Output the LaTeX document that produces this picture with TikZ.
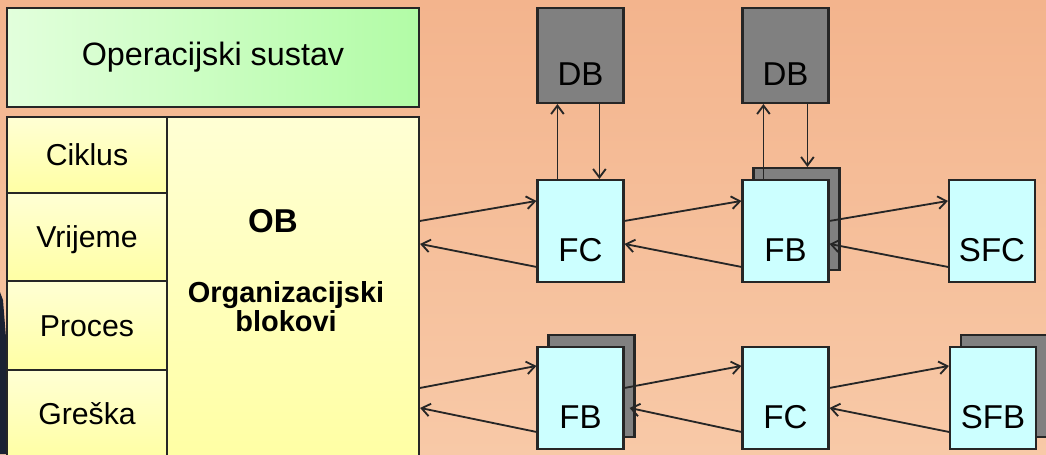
\documentclass[tikz,border=0pt]{standalone}
\usepackage{fontspec}
\setmainfont{Liberation Sans}
\usetikzlibrary{calc,shadows,arrows.meta}
\begin{document}
\begin{tikzpicture}[x=0.025cm,y=-0.025cm,
  box/.style={draw=edgecolor,line width=1.5pt,minimum width=2.15cm,minimum height=2.55cm,text height=42.8pt,text depth=0pt,font=\fontsize{23.5}{23.5}\selectfont},
  dbbox/.style={box,fill=dbcolor,minimum height=2.375cm},
  blk/.style={box,fill=blockcolor},
  stack/.style={copy shadow={shadow xshift=0.275cm,shadow yshift=0.3cm,fill=dbcolor,draw=edgecolor,line width=1.5pt}},
  cell/.style={draw=edgecolor,line width=1.5pt,top color=obtop,bottom color=obbottom,minimum width=4cm,text height=15.4pt,text depth=0pt,font=\fontsize{21.5}{21.5}\selectfont},
  link/.style={line width=1.3pt,draw=edgecolor,-{Straight Barb[length=6pt,width=9pt]}}]
  \definecolor{bgtop}{HTML}{F3B48D}
  \definecolor{bgbottom}{HTML}{F8C9A7}
  \definecolor{edgecolor}{HTML}{262626}
  \definecolor{dbcolor}{HTML}{808080}
  \definecolor{blockcolor}{HTML}{CCFFFF}
  \definecolor{osleft}{HTML}{E2FFDC}
  \definecolor{osright}{HTML}{B2FCA6}
  \definecolor{obtop}{HTML}{FFFFD4}
  \definecolor{obbottom}{HTML}{FFFFA4}
  \definecolor{photo}{HTML}{1B2233}
  \useasboundingbox (0,0) rectangle (1046,454);
  \clip (0,0) rectangle (1046,454);
  \shade [top color=bgtop,bottom color=bgbottom] (0,0) rectangle (1046,454);
  \fill [photo] (0,292) -- (3,300) -- (7,350) -- (7,454) -- (0,454) -- cycle;
  \node (os) [draw=edgecolor,line width=1.5pt,left color=osleft,right color=osright,minimum width=10.3cm,minimum height=2.475cm,text height=10.9pt,text depth=0pt,font=\fontsize{23}{23}\selectfont] at (213,57.5) {Operacijski sustav};
  \node (ob) [draw=edgecolor,line width=1.5pt,top color=obtop,bottom color=obbottom,minimum width=6.3cm,minimum height=8.525cm] at (293,287.5) {};
  \node (ciklus) [cell,minimum height=1.9cm] at (87,155) {Ciklus};
  \node (vrijeme) [cell,minimum height=2.2cm] at (87,237) {Vrijeme};
  \node (proces) [cell,minimum height=2.225cm] at (87,325.5) {Proces};
  \node (greska) [cell,minimum height=2.2cm] at (87,414) {Greška};
  \node (obname) [font=\bfseries\fontsize{23.5}{23.5}\selectfont] at (273,221) {OB};
  \node (obtext) [align=center,font=\bfseries\fontsize{20.6}{20.6}\selectfont] at (286,307) {Organizacijski\\blokovi};
  \node (db1) [dbbox] at (580.5,55.5) {DB};
  \node (fc1) [blk] at (580.5,231) {FC};
  \node (db2) [dbbox] at (785.5,55.5) {DB};
  \node (fb1) [blk,stack] at (785.5,231) {FB};
  \node (sfc) [blk] at (992,231) {SFC};
  \node (fb2) [blk,stack] at (580.5,398) {FB};
  \node (fc2) [blk] at (785.5,398) {FC};
  \node (sfb) [blk,stack] at (993,398) {SFB};
  \draw [link] ($(fc1.north west)+(21,0)$) -- ($(db1.south west)+(21,0)$);
  \draw [link] ($(db1.south west)+(63,0)$) -- ($(fc1.north west)+(63,0)$);
  \draw [link] ($(fb1.north west)+(22,0)$) -- ($(db2.south west)+(22,0)$);
  \draw [link] ($(db2.south west)+(66,0)$) -- ($(fb1.north west)+(66,-12)$);
  \draw [link] ($(ob.north east |- fc1.north)+(0,42)$) -- ($(fc1.north west)+(0,22)$);
  \draw [link] ($(fc1.north west)+(0,88)$) -- ($(ob.north east |- fc1.north)+(0,65)$);
  \draw [link] ($(fc1.north east)+(0,42)$) -- ($(fb1.north west)+(0,22)$);
  \draw [link] ($(fb1.north west)+(0,88)$) -- ($(fc1.north east)+(0,65)$);
  \draw [link] ($(fb1.north east)+(0,42)$) -- ($(sfc.north west)+(0,22)$);
  \draw [link] ($(sfc.north west)+(0,88)$) -- ($(fb1.north east)+(0,65)$);
  \draw [link] ($(ob.north east |- fb2.north)+(0,42)$) -- ($(fb2.north west)+(0,20)$);
  \draw [link] ($(fb2.north west)+(0,86)$) -- ($(ob.north east |- fb2.north)+(0,62)$);
  \draw [link] ($(fb2.north east)+(0,42)$) -- ($(fc2.north west)+(0,20)$);
  \draw [link] ($(fc2.north west)+(0,86)$) -- ($(fb2.north east)+(5,62)$);
  \draw [link] ($(fc2.north east)+(0,42)$) -- ($(sfb.north west)+(0,20)$);
  \draw [link] ($(sfb.north west)+(0,86)$) -- ($(fc2.north east)+(0,62)$);
\end{tikzpicture}
\end{document}
